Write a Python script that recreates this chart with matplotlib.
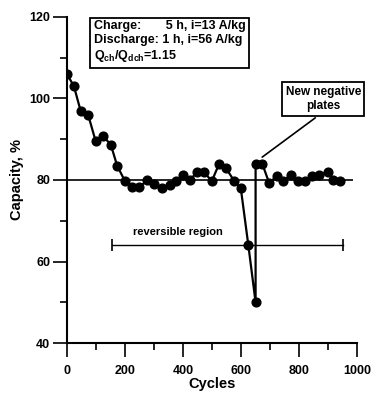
import matplotlib
matplotlib.use("Agg")
import matplotlib.pyplot as plt

plt.rcParams['font.family'] = 'Liberation Sans'
plt.rcParams['font.weight'] = 'bold'
plt.rcParams['axes.labelweight'] = 'bold'
plt.rcParams['mathtext.fontset'] = 'custom'
plt.rcParams['mathtext.rm'] = 'Liberation Sans:bold'
plt.rcParams['mathtext.default'] = 'rm'

# capacity vs cycles
cycles = [0, 24, 47, 73, 99, 125, 151, 173, 200, 225, 249, 277, 301, 327, 355,
          375, 399, 424, 449, 473, 499, 524, 547, 576, 599, 625, 650, 650, 673,
          697, 723, 746, 771, 797, 821, 846, 870, 898, 918, 941]
capacity = [106, 103, 97, 96, 89.5, 90.7, 88.7, 83.5, 79.7, 78.2, 78.2, 80, 79,
            78, 78.8, 79.8, 81.2, 80, 82, 81.9, 79.7, 83.9, 83, 79.8, 78, 64, 50,
            84, 84, 79.2, 81, 79.8, 81.2, 79.8, 79.8, 81, 81.2, 82, 80, 79.7]

ref_level = 80
ref_span = [0, 985]
region_x = [155, 950]
region_y = 64

fig = plt.figure(figsize=(3.74, 3.93), dpi=100)
ax = fig.add_axes([0.179, 0.127, 0.776, 0.830])

ax.hlines(ref_level, ref_span[0], ref_span[1], color='black', lw=1.2)
ax.plot(cycles, capacity, color='black', lw=1.6, marker='o', ms=6.3)

# reversible region bar
ax.plot(region_x, [region_y, region_y], color='black', lw=1.0, marker='|', ms=8, mew=1.2)
ax.text(383, 67.2, 'reversible region', fontsize=8, ha='center', va='center')

# conditions box
ax.text(92, 119.3,
        'Charge:       5 h, i=13 A/kg\nDischarge: 1 h, i=56 A/kg\nQ$_{ch}$/Q$_{dch}$=1.15',
        fontsize=9, ha='left', va='top', linespacing=1.2,
        bbox=dict(boxstyle='square,pad=0.3', fc='white', ec='black', lw=1.3))

ax.annotate('New negative\nplates', xy=(665, 85.2), xytext=(883, 99.9),
            fontsize=8.5, ha='center', va='center', linespacing=1.25,
            bbox=dict(boxstyle='square,pad=0.3', fc='white', ec='black', lw=1.3),
            arrowprops=dict(arrowstyle='-', color='black', lw=1.2, relpos=(0.5, 0)))

ax.set_xlim(0, 1000)
ax.set_ylim(40, 120)
ax.set_xticks([0, 200, 400, 600, 800, 1000])
ax.set_xticks(range(100, 1000, 200), minor=True)
ax.set_yticks([40, 60, 80, 100, 120])
ax.set_yticks([50, 70, 90, 110], minor=True)
ax.tick_params(axis='both', which='major', length=10, width=1.2, labelsize=9)
ax.tick_params(axis='both', which='minor', length=5, width=1.2)
ax.tick_params(axis='x', which='major', pad=6)
ax.tick_params(axis='y', which='major', pad=2)

ax.spines['top'].set_visible(False)
ax.spines['right'].set_visible(False)
ax.spines['left'].set_linewidth(1.5)
ax.spines['bottom'].set_linewidth(1.5)

ax.set_xlabel('Cycles', fontsize=10.5, labelpad=0)
ax.set_ylabel('Capacity, %', fontsize=10.5, labelpad=4)

fig.savefig('out.png', dpi=100)
